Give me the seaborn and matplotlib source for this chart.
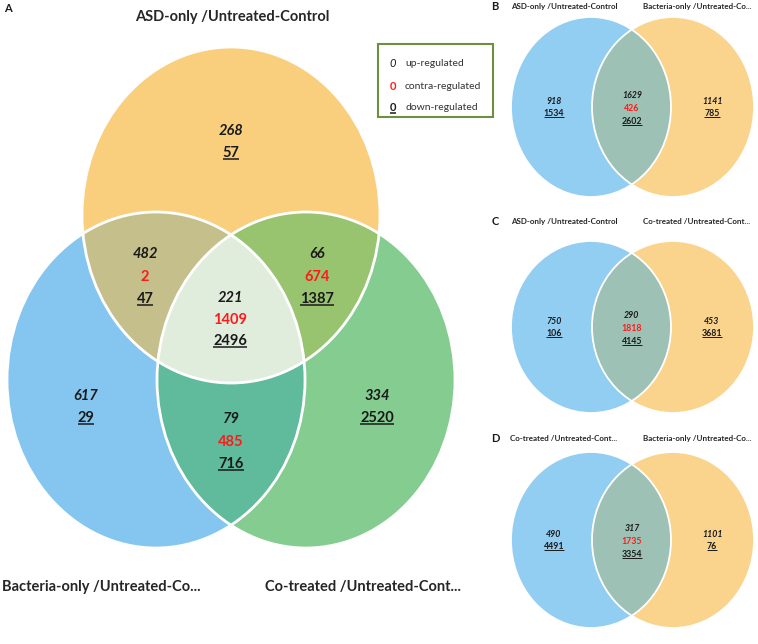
import numpy as np
import matplotlib
matplotlib.use("Agg")
import matplotlib.pyplot as plt
from matplotlib.patches import Ellipse, Polygon, Rectangle
import seaborn as sns

sns.set_theme(style="white")
plt.rcParams['font.family'] = ['Lato', 'DejaVu Sans']

# ---- data ----
main_sets = ["ASD-only /Untreated-Control", "Bacteria-only /Untreated-Co...", "Co-treated /Untreated-Cont..."]
main_regions = ["A", "B", "C", "AB", "AC", "BC", "ABC"]
main_up = [268, 617, 334, 482, 66, 79, 221]
main_contra = [None, None, None, 2, 674, 485, 1409]
main_down = [57, 29, 2520, 47, 1387, 716, 2496]

pair_panels = ["B", "C", "D"]
pair_left = ["ASD-only /Untreated-Control", "ASD-only /Untreated-Control", "Co-treated /Untreated-Cont..."]
pair_right = ["Bacteria-only /Untreated-Co...", "Co-treated /Untreated-Cont...", "Bacteria-only /Untreated-Co..."]
pair_up = [[918, 1629, 1141], [750, 290, 453], [490, 317, 1101]]
pair_contra = [426, 1818, 1735]
pair_down = [[1534, 2602, 785], [106, 4145, 3681], [4491, 3354, 76]]

# ---- layout (pixel coordinates) ----
W, H = 758, 644
fig = plt.figure(figsize=(W / 100, H / 100), dpi=100)
ax = fig.add_axes([0, 0, 1, 1])
ax.set_xlim(0, W)
ax.set_ylim(H, 0)
ax.axis('off')

TXT = '#1a1a1a'
RED = '#ff1a1a'


def inside(px, py, e):
    cx, cy, rx, ry = e
    return ((px - cx) / rx) ** 2 + ((py - cy) / ry) ** 2 <= 1.0 + 1e-9


def intersection_poly(ells):
    t = np.linspace(0, 2 * np.pi, 1440, endpoint=False)
    pts = []
    for i, (cx, cy, rx, ry) in enumerate(ells):
        px = cx + rx * np.cos(t)
        py = cy + ry * np.sin(t)
        mask = np.ones_like(px, dtype=bool)
        for j, o in enumerate(ells):
            if j != i:
                mask &= inside(px, py, o)
        pts.append(np.column_stack([px[mask], py[mask]]))
    pts = np.vstack(pts)
    c = pts.mean(axis=0)
    ang = np.arctan2(pts[:, 1] - c[1], pts[:, 0] - c[0])
    return pts[np.argsort(ang)]


def draw_ellipse(e, color, z):
    cx, cy, rx, ry = e
    ax.add_patch(Ellipse((cx, cy), 2 * rx, 2 * ry, facecolor=color, edgecolor='none', zorder=z))


def outline(e, lw):
    cx, cy, rx, ry = e
    ax.add_patch(Ellipse((cx, cy), 2 * rx, 2 * ry, facecolor='none', edgecolor='white', lw=lw, zorder=5))


underlined = []


def num(x, y, value, size, kind, weight='bold'):
    if value is None:
        return
    base = y + size * 0.5
    if kind == 'up':
        t = ax.text(x, base, str(value), ha='center', va='baseline', fontsize=size,
                    fontweight=weight, style='italic', color=TXT, zorder=7)
    elif kind == 'contra':
        t = ax.text(x, base, str(value), ha='center', va='baseline', fontsize=size,
                    fontweight='bold', color=RED, zorder=7)
    else:
        t = ax.text(x, base, str(value), ha='center', va='baseline', fontsize=size,
                    fontweight='bold', color=TXT, zorder=7)
        underlined.append((t, base, size))


# ---- panel A: three-set venn ----
RX, RY = 149, 168
e_asd = (231, 215, RX, RY)
e_bac = (156, 380, RX, RY)
e_co = (306, 380, RX, RY)
ells = {'A': e_asd, 'B': e_bac, 'C': e_co}

draw_ellipse(e_asd, '#f9cf7e', 1)
draw_ellipse(e_bac, '#85c6f1', 1)
draw_ellipse(e_co, '#84cc8f', 1)
pair_cols = {'AB': '#c5bf8b', 'AC': '#98c36f', 'BC': '#5fbb9b'}
for key, col in pair_cols.items():
    ax.add_patch(Polygon(intersection_poly([ells[k] for k in key]), closed=True,
                         facecolor=col, edgecolor='none', zorder=2))
ax.add_patch(Polygon(intersection_poly([e_asd, e_bac, e_co]), closed=True,
                     facecolor='#e0eddd', edgecolor='none', zorder=3))
for e in (e_asd, e_bac, e_co):
    outline(e, 2.0)

label_pos = {'A': (231, 130, 152), 'B': (86, 395, 417), 'C': (377, 395, 417),
             'AB': (145, 253, 298), 'AC': (317, 253, 298), 'BC': (231, 418, 463),
             'ABC': (230, 297, 340)}
for reg, u, c, d in zip(main_regions, main_up, main_contra, main_down):
    x, y0, y2 = label_pos[reg]
    num(x, y0, u, 10.5, 'up')
    num(x, (y0 + y2) / 2, c, 10.5, 'contra')
    num(x, y2, d, 10.5, 'down')

ax.text(8, 8, "A", fontsize=8, fontweight='bold', color=TXT, ha='center', va='center')
ax.text(232, 17, main_sets[0], fontsize=10.5, fontweight='bold', color='#262626', ha='center', va='center')
ax.text(2, 587, main_sets[1], fontsize=10.5, fontweight='bold', color='#262626', ha='left', va='center')
ax.text(265, 587, main_sets[2], fontsize=10.5, fontweight='bold', color='#262626', ha='left', va='center')

# legend box
ax.add_patch(Rectangle((378, 44), 115, 73, facecolor='white', edgecolor='#6f8f3c', lw=1.5, zorder=6))
leg_y = [63, 86, 107]
num(393, leg_y[0], 0, 8, 'up', weight='normal')
num(393, leg_y[1], 0, 8, 'contra')
num(393, leg_y[2], 0, 8, 'down')
for yy, lab in zip(leg_y, ["up-regulated", "contra-regulated", "down-regulated"]):
    ax.text(405, yy, lab, fontsize=7.5, color='#333333', ha='left', va='center', zorder=7)

# ---- panels B, C, D: two-set venns ----
panel_geo = [(107, 90, 6), (327, 86, 221), (540, 88, 438)]
for p, left, right, ups, contra, downs, (cy, ry, ty) in zip(pair_panels, pair_left, pair_right,
                                                            pair_up, pair_contra, pair_down, panel_geo):
    el = (591, cy, 80, ry)
    er = (673, cy, 81, ry)
    draw_ellipse(el, '#92cdf2', 1)
    draw_ellipse(er, '#fad38c', 1)
    ax.add_patch(Polygon(intersection_poly([el, er]), closed=True,
                         facecolor='#9dc2b5', edgecolor='none', zorder=2))
    outline(el, 1.3)
    outline(er, 1.3)
    ax.text(495, ty, p, fontsize=8, fontweight='bold', color=TXT, ha='center', va='center')
    ax.text(564, ty, left, fontsize=5.8, fontweight='bold', color='#262626', ha='center', va='center')
    ax.text(697, ty, right, fontsize=5.8, fontweight='bold', color='#262626', ha='center', va='center')
    xs = [554, 632, 712]
    for k, x in enumerate(xs):
        if k == 1:
            num(x, cy - 12, ups[k], 6.3, 'up')
            num(x, cy + 1, contra, 6.3, 'contra')
            num(x, cy + 14, downs[k], 6.3, 'down')
        else:
            num(x, cy - 6, ups[k], 6.3, 'up')
            num(x, cy + 6, downs[k], 6.3, 'down')

# underlines
fig.canvas.draw()
r = fig.canvas.get_renderer()
inv = ax.transData.inverted()
for t, base, size in underlined:
    bb = t.get_window_extent(r)
    x0 = inv.transform((bb.x0, bb.y0))[0]
    x1 = inv.transform((bb.x1, bb.y0))[0]
    off = 2.0 if size > 7 else 1.3
    ax.plot([x0, x1], [base + off, base + off], color=TXT, lw=1.1 if size > 7 else 0.7,
            solid_capstyle='butt', zorder=7)

fig.savefig("out.png", dpi=100)
